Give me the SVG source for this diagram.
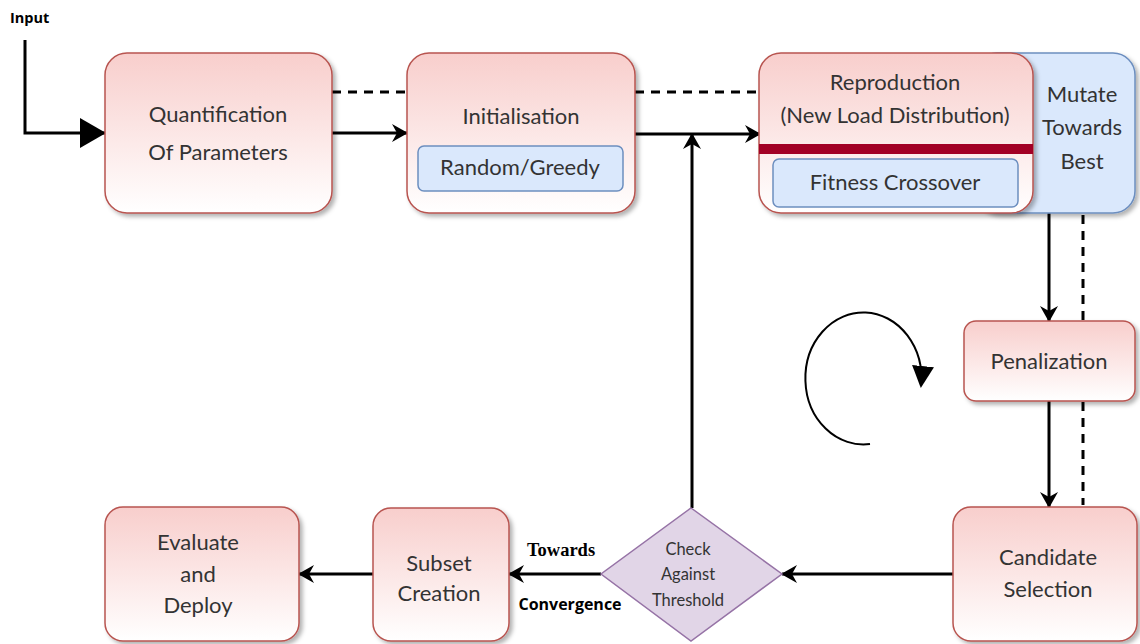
<svg xmlns="http://www.w3.org/2000/svg" width="1140" height="644" viewBox="0 0 1140 644">
<defs>
<linearGradient id="red" x1="0" y1="0" x2="0" y2="1">
<stop offset="0" stop-color="#f8cecc"/>
<stop offset="1" stop-color="#ffffff"/>
</linearGradient>
<filter id="sh" x="-10%" y="-10%" width="130%" height="130%">
<feDropShadow dx="3" dy="3" stdDeviation="2" flood-color="#000" flood-opacity="0.3"/>
</filter>
<marker id="ah" viewBox="0 0 16 18" refX="15" refY="9" markerWidth="16" markerHeight="18" markerUnits="userSpaceOnUse" orient="auto">
<path d="M0,0 L16,9 L0,18 L5,9 Z" fill="#000"/>
</marker>
<marker id="big" viewBox="0 0 26 30" refX="25" refY="15" markerWidth="26" markerHeight="30" markerUnits="userSpaceOnUse" orient="auto">
<path d="M0,0 L26,15 L0,30 Z" fill="#000"/>
</marker>
<marker id="tri" viewBox="0 0 22 22" refX="20" refY="11" markerWidth="22" markerHeight="22" markerUnits="userSpaceOnUse" orient="auto">
<path d="M0,0 L22,11 L0,22 Z" fill="#000"/>
</marker>
</defs>
<style>
.box{fill:url(#red);stroke:#b85450;stroke-width:1.5;filter:url(#sh)}
.blue{fill:#dae8fc;stroke:#6c8ebf;stroke-width:1.5}
.t{font-family:Lato,"Open Sans",sans-serif;font-size:22px;fill:#333;text-anchor:middle}
.d{font-size:16.5px}
.ln{stroke:#000;stroke-width:3;fill:none}
.dash{stroke:#000;stroke-width:3;fill:none;stroke-dasharray:9 7}
</style>

<g id="connectors">
<text x="10" y="23" style="font-family:'Open Sans','Liberation Sans',sans-serif;font-size:14.5px;font-weight:bold;fill:#000">Input</text>
<path class="ln" d="M25,40 V133 H105" stroke-width="4" marker-end="url(#big)"/>
<path class="dash" d="M332,92 H407"/>
<path class="ln" d="M332,133 H407" marker-end="url(#ah)"/>
<path class="dash" d="M635,92 H760"/>
<path class="ln" d="M635,134 H760" marker-end="url(#ah)"/>
<path class="ln" d="M692,508 V134" marker-end="url(#ah)"/>
<path class="ln" d="M1049,213 V321" marker-end="url(#ah)"/>
<path class="dash" d="M1083,215 V320"/>
<path class="ln" d="M1049,401 V507" marker-end="url(#ah)"/>
<path class="dash" d="M1083,402 V505"/>
<path class="ln" d="M953,574 H782" marker-end="url(#ah)"/>
<path class="ln" d="M601,574 H509" marker-end="url(#ah)"/>
<path class="ln" d="M373,574 H299" marker-end="url(#ah)"/>
<path d="M870,444 A58,66 0 1 1 921,386" stroke="#000" stroke-width="2" fill="none" marker-end="url(#tri)"/>
<text x="561" y="556" style="font-family:'Liberation Serif',serif;font-size:18.5px;font-weight:bold;fill:#000" text-anchor="middle">Towards</text>
<text x="570" y="610" style="font-family:'Open Sans','Liberation Sans',sans-serif;font-size:16px;font-weight:bold;fill:#000" text-anchor="middle">Convergence</text>
</g>

<g id="quantification">
<rect class="box" x="105" y="53" width="227" height="160" rx="22"/>
<text class="t" x="218" y="122">Quantification</text>
<text class="t" x="218" y="160">Of Parameters</text>
</g>

<g id="initialisation">
<rect class="box" x="407" y="53" width="228" height="160" rx="22"/>
<text class="t" x="521" y="124">Initialisation</text>
<rect class="blue" x="418" y="146" width="205" height="45" rx="6"/>
<text class="t" x="520" y="175">Random/Greedy</text>
</g>

<g id="mutate">
<rect class="blue" x="975" y="53" width="160" height="160" rx="22" filter="url(#sh)"/>
<text class="t" x="1082" y="102">Mutate</text>
<text class="t" x="1082" y="135">Towards</text>
<text class="t" x="1082" y="169">Best</text>
</g>

<g id="reproduction">
<rect class="box" x="759" y="53" width="274" height="160" rx="22"/>
<rect x="759" y="144" width="274" height="10" fill="#a20025"/>
<text class="t" x="895" y="90">Reproduction</text>
<text class="t" x="895" y="123">(New Load Distribution)</text>
<rect class="blue" x="773" y="159" width="245" height="48" rx="6"/>
<text class="t" x="895" y="190">Fitness Crossover</text>
</g>

<g id="penalization">
<rect class="box" x="964" y="321" width="171" height="80" rx="12"/>
<text class="t" x="1049" y="369">Penalization</text>
</g>

<g id="candidate">
<rect class="box" x="953" y="507" width="184" height="134" rx="18"/>
<text class="t" x="1048" y="565">Candidate</text>
<text class="t" x="1048" y="597">Selection</text>
</g>

<g id="threshold">
<path d="M691,508 L782,574 L691,641 L601,574 Z" fill="#e1d5e7" stroke="#9673a6" stroke-width="1.5"/>
<text class="t d" x="688" y="555">Check</text>
<text class="t d" x="688" y="580">Against</text>
<text class="t d" x="688" y="606">Threshold</text>
</g>

<g id="subset">
<rect class="box" x="373" y="508" width="136" height="133" rx="18"/>
<text class="t" x="439" y="571">Subset</text>
<text class="t" x="439" y="601">Creation</text>
</g>

<g id="evaluate">
<rect class="box" x="105" y="507" width="194" height="134" rx="18"/>
<text class="t" x="198" y="550">Evaluate</text>
<text class="t" x="198" y="582">and</text>
<text class="t" x="198" y="613">Deploy</text>
</g>
</svg>
